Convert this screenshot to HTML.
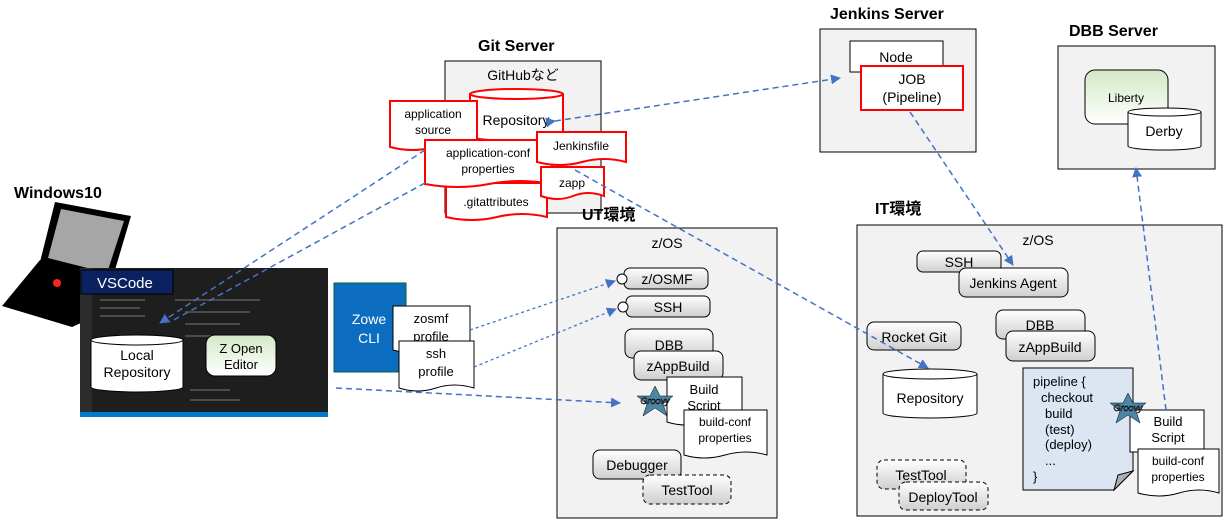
<!DOCTYPE html>
<html><head><meta charset="utf-8"><style>
body{margin:0;background:#fff}
svg{display:block;font-family:"Liberation Sans","Noto Sans CJK JP",sans-serif}
</style></head><body>
<svg width="1227" height="524" viewBox="0 0 1227 524" xmlns="http://www.w3.org/2000/svg">
<defs>
<linearGradient id="g" x1="0" y1="0" x2="0" y2="1"><stop offset="0" stop-color="#fff"/><stop offset="1" stop-color="#cfcfcf"/></linearGradient>
<linearGradient id="gg" x1="0" y1="0" x2="0" y2="1"><stop offset="0" stop-color="#d3e8c6"/><stop offset="1" stop-color="#fff"/></linearGradient>
<marker id="a" viewBox="0 0 10 10" refX="9" refY="5" markerWidth="10" markerHeight="10" markerUnits="userSpaceOnUse" orient="auto"><path d="M0,0L10,5L0,10z" fill="#4472c4"/></marker>
</defs>
<g font-size="13" fill="#000">
<g font-weight="bold" font-size="16">
<text x="14" y="198">Windows10</text>
<text x="478" y="51">Git Server</text>
<text x="830" y="19">Jenkins Server</text>
<text x="1069" y="36">DBB Server</text>
<text x="875" y="214">IT環境</text>
</g>
<!-- laptop -->
<polygon points="40,260 118,278 110,310 72,327 2,306" fill="#000"/>
<polygon points="55,202 131,216 112,280 40,262" fill="#000"/>
<polygon points="61,209 124,221 107,273 48,258" fill="#a6a6a6"/>
<circle cx="57" cy="283" r="4" fill="#f22"/>
<!-- vscode screenshot -->
<rect x="80" y="268" width="248" height="149" fill="#1e1e1e"/>
<rect x="80" y="268" width="12" height="149" fill="#2c2c2c"/>
<rect x="80" y="412" width="248" height="5" fill="#007acc"/>
<g stroke="#4a4a4a" stroke-width="2">
<line x1="100" y1="300" x2="145" y2="300"/><line x1="100" y1="308" x2="140" y2="308"/><line x1="100" y1="316" x2="145" y2="316"/>
<line x1="175" y1="300" x2="260" y2="300"/><line x1="185" y1="312" x2="250" y2="312"/><line x1="185" y1="324" x2="240" y2="324"/><line x1="185" y1="336" x2="245" y2="336"/><line x1="190" y1="390" x2="230" y2="390"/><line x1="190" y1="400" x2="240" y2="400"/>
</g>
<rect x="81" y="270" width="92" height="24" fill="#0b2160" stroke="#000"/>
<text x="97" y="288" font-size="15" fill="#fff">VSCode</text>
<path d="M91,340 v47 a46,5 0 0 0 92,0 v-47" fill="#fff" stroke="#000"/>
<ellipse cx="137" cy="340" rx="46" ry="5" fill="#fff" stroke="#000"/>
<text x="137" y="360" text-anchor="middle" font-size="14">Local</text>
<text x="137" y="377" text-anchor="middle" font-size="14">Repository</text>
<rect x="206" y="335" width="70" height="41" rx="9" fill="url(#gg)" stroke="#000"/>
<text x="241" y="353" text-anchor="middle">Z Open</text>
<text x="241" y="369" text-anchor="middle">Editor</text>
<!-- zowe -->
<rect x="334" y="283" width="72" height="89" fill="#0b6cc0" stroke="#063"/>
<text x="369" y="324" text-anchor="middle" font-size="14" fill="#fff">Zowe</text>
<text x="369" y="343" text-anchor="middle" font-size="14" fill="#fff">CLI</text>
<path d="M393,306 h77 v44 q-20,-6 -38,0 t-39,0 z" fill="#fff" stroke="#000"/>
<text x="431" y="323" text-anchor="middle">zosmf</text>
<text x="431" y="341" text-anchor="middle">profile</text>
<path d="M399,341 h75 v47 q-20,-6 -38,0 t-37,0 z" fill="#fff" stroke="#000"/>
<text x="436" y="358" text-anchor="middle">ssh</text>
<text x="436" y="376" text-anchor="middle">profile</text>
<!-- git server -->
<rect x="445" y="61" width="156" height="152" fill="#f2f2f2" stroke="#000"/>
<text x="523" y="80" text-anchor="middle" font-size="14">GitHubなど</text>
<path d="M470,94 v42 a46.5,5 0 0 0 93,0 v-42" fill="#fff" stroke="#f00" stroke-width="2"/>
<ellipse cx="516.5" cy="94" rx="46.5" ry="5" fill="#fff" stroke="#f00" stroke-width="2"/>
<text x="516" y="125" text-anchor="middle" font-size="14">Repository</text>
<g stroke="#f00" stroke-width="2" fill="#fff">
<path d="M446,183 h101 v34 q-25,-6 -50,0 t-51,0 z"/>
<path d="M390,101 h87 v46 q-22,-6 -43,0 t-44,0 z"/>
<path d="M425,140 h127 v44 q-32,-6 -63,0 t-64,0 z"/>
<path d="M537,132 h89 v30 q-22,-6 -44,0 t-45,0 z"/>
<path d="M541,167 h63 v29 q-16,-6 -31,0 t-32,0 z"/>
</g>
<text x="433" y="118" text-anchor="middle" font-size="12">application</text>
<text x="433" y="134" text-anchor="middle" font-size="12">source</text>
<text x="488" y="157" text-anchor="middle" font-size="12">application-conf</text>
<text x="488" y="173" text-anchor="middle" font-size="12">properties</text>
<text x="581" y="150" text-anchor="middle" font-size="12">Jenkinsfile</text>
<text x="572" y="187" text-anchor="middle" font-size="12">zapp</text>
<text x="496" y="206" text-anchor="middle" font-size="12">.gitattributes</text>
<!-- jenkins -->
<rect x="820" y="29" width="156" height="123" fill="#f2f2f2" stroke="#000"/>
<rect x="850" y="41" width="93" height="31" fill="#fff" stroke="#000"/>
<text x="896" y="62" text-anchor="middle" font-size="14">Node</text>
<rect x="861" y="66" width="102" height="44" fill="#fff" stroke="#f00" stroke-width="2"/>
<text x="912" y="84" text-anchor="middle" font-size="14">JOB</text>
<text x="912" y="102" text-anchor="middle" font-size="14">(Pipeline)</text>
<!-- dbb server -->
<rect x="1058" y="46" width="157" height="123" fill="#f2f2f2" stroke="#000"/>
<rect x="1085" y="70" width="83" height="54" rx="10" fill="url(#gg)" stroke="#000"/>
<text x="1126" y="102" text-anchor="middle" font-size="12">Liberty</text>
<path d="M1128,112 v34 a36.5,4 0 0 0 73,0 v-34" fill="#fff" stroke="#000"/>
<ellipse cx="1164.5" cy="112" rx="36.5" ry="4" fill="#fff" stroke="#000"/>
<text x="1164" y="136" text-anchor="middle" font-size="14">Derby</text>
<!-- UT -->
<rect x="557" y="228" width="220" height="290" fill="#f2f2f2" stroke="#000"/>
<text x="582" y="220" font-weight="bold" font-size="16">UT環境</text>
<text x="667" y="248" text-anchor="middle" font-size="14">z/OS</text>
<rect x="624" y="268" width="84" height="21" rx="6" fill="url(#g)" stroke="#000"/>
<circle cx="622" cy="279" r="5" fill="#fff" stroke="#000"/>
<text x="667" y="284" text-anchor="middle" font-size="14">z/OSMF</text>
<rect x="626" y="296" width="84" height="21" rx="6" fill="url(#g)" stroke="#000"/>
<circle cx="623" cy="307" r="5" fill="#fff" stroke="#000"/>
<text x="668" y="312" text-anchor="middle" font-size="14">SSH</text>
<rect x="625" y="329" width="88" height="29" rx="7" fill="url(#g)" stroke="#000"/>
<text x="669" y="350" text-anchor="middle" font-size="14">DBB</text>
<rect x="634" y="351" width="89" height="29" rx="7" fill="url(#g)" stroke="#000"/>
<text x="678" y="371" text-anchor="middle" font-size="14">zAppBuild</text>
<path d="M667,377 h75 v45 q-20,-6 -38,0 t-37,0 z" fill="#fff" stroke="#000"/>
<polygon points="655,386 660,396 673,396 663,404 667,416 655,408 643,416 647,404 637,396 650,396" fill="#4a86a8" stroke="#000" stroke-width=".5"/>
<text x="655" y="404" text-anchor="middle" font-size="9" font-style="italic" fill="#fff" stroke="#000" stroke-width=".6">Groovy</text>
<text x="704" y="394" text-anchor="middle">Build</text>
<text x="704" y="410" text-anchor="middle">Script</text>
<path d="M684,410 h83 v45 q-21,-6 -42,0 t-41,0 z" fill="#fff" stroke="#000"/>
<text x="725" y="426" text-anchor="middle" font-size="12">build-conf</text>
<text x="725" y="442" text-anchor="middle" font-size="12">properties</text>
<rect x="593" y="450" width="88" height="29" rx="7" fill="url(#g)" stroke="#000"/>
<text x="637" y="470" text-anchor="middle" font-size="14">Debugger</text>
<rect x="643" y="475" width="88" height="29" rx="7" fill="url(#g)" stroke="#000" stroke-dasharray="4,3"/>
<text x="687" y="495" text-anchor="middle" font-size="14">TestTool</text>
<!-- IT -->
<rect x="857" y="225" width="365" height="291" fill="#f2f2f2" stroke="#000"/>
<text x="1038" y="245" text-anchor="middle" font-size="14">z/OS</text>
<rect x="917" y="251" width="84" height="21" rx="6" fill="url(#g)" stroke="#000"/>
<text x="959" y="267" text-anchor="middle" font-size="14">SSH</text>
<rect x="959" y="268" width="109" height="29" rx="7" fill="url(#g)" stroke="#000"/>
<text x="1013" y="288" text-anchor="middle" font-size="14">Jenkins Agent</text>
<rect x="996" y="310" width="89" height="29" rx="7" fill="url(#g)" stroke="#000"/>
<text x="1040" y="330" text-anchor="middle" font-size="14">DBB</text>
<rect x="1006" y="331" width="89" height="30" rx="7" fill="url(#g)" stroke="#000"/>
<text x="1050" y="352" text-anchor="middle" font-size="14">zAppBuild</text>
<rect x="867" y="322" width="94" height="28" rx="7" fill="url(#g)" stroke="#000"/>
<text x="914" y="342" text-anchor="middle" font-size="14">Rocket Git</text>
<path d="M883,374 v39 a47,5 0 0 0 94,0 v-39" fill="#fff" stroke="#000"/>
<ellipse cx="930" cy="374" rx="47" ry="5" fill="#fff" stroke="#000"/>
<text x="930" y="403" text-anchor="middle" font-size="14">Repository</text>
<path d="M1023,368 h110 v103 l-19,19 h-91 z" fill="#dce6f2" stroke="#000"/>
<path d="M1133,471 l-19,19 l4,-15 z" fill="#b0b0b0" stroke="#000"/>
<g font-size="13"><text x="1033" y="386">pipeline {</text><text x="1041" y="402">checkout</text><text x="1045" y="418">build</text><text x="1045" y="434">(test)</text><text x="1045" y="449">(deploy)</text><text x="1045" y="465">...</text><text x="1033" y="481">}</text></g>
<rect x="1130" y="410" width="74" height="42" fill="#fff" stroke="#000"/>
<polygon points="1128,393 1133,403 1146,403 1136,411 1140,423 1128,415 1116,423 1120,411 1110,403 1123,403" fill="#4a86a8" stroke="#000" stroke-width=".5"/>
<text x="1128" y="411" text-anchor="middle" font-size="9" font-style="italic" fill="#fff" stroke="#000" stroke-width=".6">Groovy</text>
<text x="1168" y="426" text-anchor="middle">Build</text>
<text x="1168" y="442" text-anchor="middle">Script</text>
<path d="M1138,449 h81 v44 q-20,-6 -40,0 t-41,0 z" fill="#fff" stroke="#000"/>
<text x="1178" y="465" text-anchor="middle" font-size="12">build-conf</text>
<text x="1178" y="481" text-anchor="middle" font-size="12">properties</text>
<rect x="877" y="460" width="89" height="29" rx="7" fill="url(#g)" stroke="#000" stroke-dasharray="4,3"/>
<text x="921" y="480" text-anchor="middle" font-size="14">TestTool</text>
<rect x="899" y="482" width="89" height="28" rx="7" fill="url(#g)" stroke="#000" stroke-dasharray="4,3"/>
<text x="943" y="502" text-anchor="middle" font-size="14">DeployTool</text>
</g>
<!-- connectors -->
<g stroke="#4472c4" stroke-width="1.5" fill="none" stroke-dasharray="6,4">
<line x1="555" y1="121" x2="840" y2="78" marker-start="url(#a)" marker-end="url(#a)"/>
<line x1="425" y1="150" x2="160" y2="323" marker-end="url(#a)"/>
<line x1="425" y1="183" x2="170" y2="322"/>
<line x1="575" y1="170" x2="928" y2="368" marker-end="url(#a)"/>
<line x1="910" y1="112" x2="1013" y2="265" marker-end="url(#a)"/>
<line x1="1166" y1="410" x2="1136" y2="168" marker-end="url(#a)"/>
<line x1="336" y1="388" x2="620" y2="403" marker-end="url(#a)"/>
</g>
<g stroke="#4472c4" stroke-width="1.3" fill="none" stroke-dasharray="3,3">
<line x1="470" y1="330" x2="615" y2="281" marker-end="url(#a)"/>
<line x1="474" y1="367" x2="616" y2="309" marker-end="url(#a)"/>
</g>
</svg>
</body></html>
